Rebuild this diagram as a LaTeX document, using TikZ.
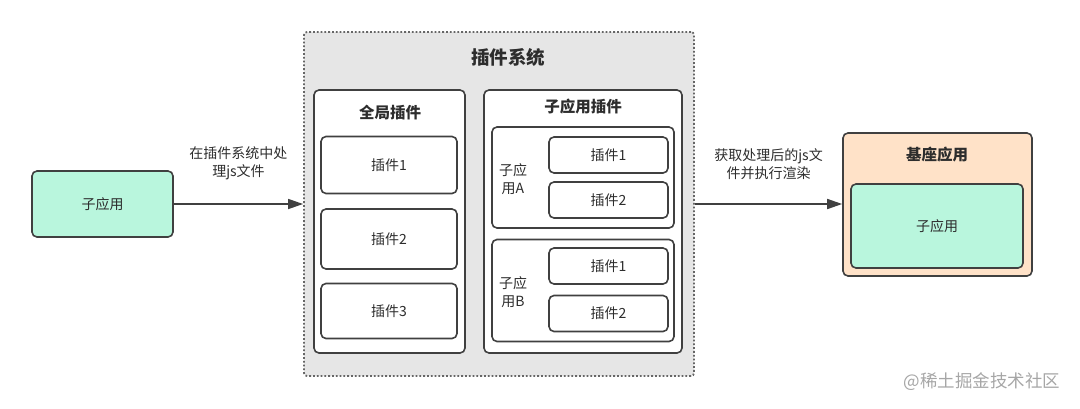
\documentclass[tikz,border=0pt]{standalone}
\usepackage{fontspec}
\setmainfont{Noto Sans CJK SC}
\usetikzlibrary{arrows.meta}

\definecolor{menta}{RGB}{185,246,221}
\definecolor{pesca}{RGB}{255,226,200}
\definecolor{grigio}{RGB}{230,230,230}
\definecolor{bordo}{RGB}{64,64,64}
\definecolor{testo}{RGB}{45,45,45}

\tikzset{
  scatola/.style={draw=bordo, line width=1.6pt, rounded corners=5pt, fill=white,
    text=testo, font=\fontsize{14}{18}\selectfont, inner sep=0pt},
  titolo/.style={text=testo, font=\fontsize{15.5}{18}\selectfont\bfseries},
  etichetta/.style={text=testo, font=\fontsize{14}{18}\selectfont, align=center},
  freccia/.style={draw=bordo, line width=1.6pt, -{Triangle[length=15pt,width=10pt]}}
}

\begin{document}
\begin{tikzpicture}[x=1pt,y=-1pt]

    \useasboundingbox (0,0) rectangle (1080,408);

    % Sottoapplicazione a sinistra
    \node[scatola, fill=menta, minimum width=141pt, minimum height=66pt] (sub) at (102.5,204) {子应用};

    % Sistema dei plugin (contenitore tratteggiato)
    \node[draw=bordo!80, fill=grigio, dotted, line width=1.8pt, rounded corners=3pt,
      minimum width=390pt, minimum height=344pt] (sistema) at (499,204) {};
    \node[titolo, font=\fontsize{18.5}{20}\selectfont\bfseries] (tsistema) at (508,57) {插件系统};

    % Plugin globali
    \node[scatola, minimum width=151pt, minimum height=263pt] (globale) at (389.5,221.5) {};
    \node[titolo] (tglobale) at (390,113) {全局插件};
    \node[scatola, minimum width=136pt, minimum height=57pt] (g1) at (389,165) {插件1};
    \node[scatola, minimum width=136pt, minimum height=60pt] (g2) at (389,239) {插件2};
    \node[scatola, minimum width=136pt, minimum height=55pt] (g3) at (389,311) {插件3};

    % Plugin delle sottoapplicazioni
    \node[scatola, minimum width=198pt, minimum height=263pt] (subplugin) at (583,221.5) {};
    \node[titolo] (tsubplugin) at (583,107) {子应用插件};

    % Gruppo A
    \node[scatola, minimum width=182pt, minimum height=101pt] (gruppoA) at (583,177.5) {};
    \node[etichetta] (tA) at (513,179) {子应\\用A};
    \node[scatola, minimum width=119pt, minimum height=36pt] (a1) at (608.5,155) {插件1};
    \node[scatola, minimum width=119pt, minimum height=36pt] (a2) at (608.5,200) {插件2};

    % Gruppo B
    \node[scatola, minimum width=182pt, minimum height=102pt] (gruppoB) at (583,290.5) {};
    \node[etichetta] (tB) at (513,292) {子应\\用B};
    \node[scatola, minimum width=119pt, minimum height=36pt] (b1) at (608.5,266) {插件1};
    \node[scatola, minimum width=119pt, minimum height=36pt] (b2) at (608.5,313.5) {插件2};

    % Applicazione base a destra
    \node[scatola, fill=pesca, minimum width=189pt, minimum height=143pt] (base) at (937.5,204.5) {};
    \node[titolo] (tbase) at (937,155) {基座应用};
    \node[scatola, fill=menta, minimum width=172pt, minimum height=84pt] (subbase) at (937,226) {子应用};

    % Frecce
    \draw[freccia] (sub.east) -- (sistema.west)
      node[etichetta, midway, above=20pt] {在插件系统中处\\理js文件};
    \draw[freccia] (sistema.east) -- (base.west |- sistema.east)
      node[etichetta, midway, above=20pt] {获取处理后的js文\\件并执行渲染};

    % Filigrana
    \node[anchor=east, text=black!35, font=\fontsize{17.5}{20}\selectfont] (filigrana) at (1064,382) {@稀土掘金技术社区};

\end{tikzpicture}
\end{document}
